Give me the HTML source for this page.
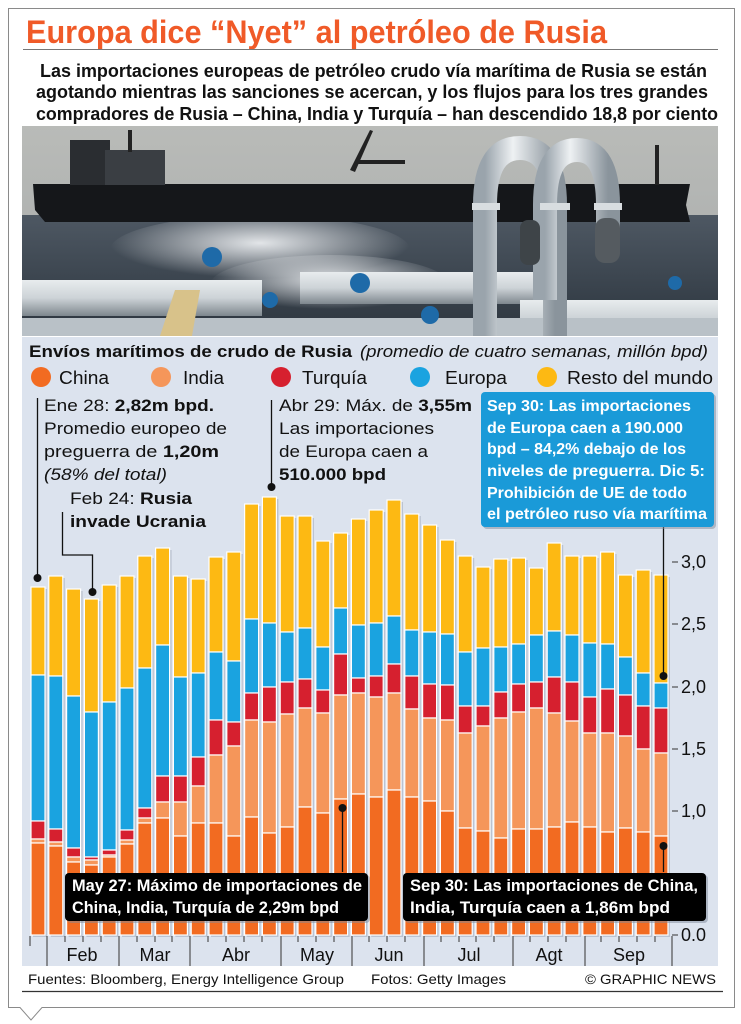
<!DOCTYPE html>
<html><head><meta charset="utf-8"><style>
html,body{margin:0;padding:0;background:#fff}
svg{display:block}
text{font-family:"Liberation Sans",sans-serif}
</style></head><body>
<svg width="741" height="1024" viewBox="0 0 741 1024" xmlns="http://www.w3.org/2000/svg">
<defs>
<linearGradient id="sky" x1="0" y1="0" x2="0" y2="1"><stop offset="0" stop-color="#b9bbb8"/><stop offset="1" stop-color="#a7aaaa"/></linearGradient>
<linearGradient id="sea" x1="0" y1="0" x2="0" y2="1"><stop offset="0" stop-color="#4e5863"/><stop offset="1" stop-color="#2c353e"/></linearGradient>
<radialGradient id="glint" cx="0.5" cy="0.4" r="0.5"><stop offset="0" stop-color="#f4f6f8" stop-opacity="0.9"/><stop offset="1" stop-color="#f4f6f8" stop-opacity="0"/></radialGradient>
<linearGradient id="pipe" x1="0" y1="0" x2="1" y2="0"><stop offset="0" stop-color="#9aa4ac"/><stop offset="0.4" stop-color="#eef1f3"/><stop offset="1" stop-color="#8a949c"/></linearGradient>
<linearGradient id="pipeh" x1="0" y1="0" x2="0" y2="1"><stop offset="0" stop-color="#e8ecee"/><stop offset="0.5" stop-color="#cdd3d7"/><stop offset="1" stop-color="#7e878e"/></linearGradient>
</defs>
<path d="M8.5 8.5 H734.5 V1007.5 H42 L31 1020 L20 1007.5 H8.5 Z" fill="#fff" stroke="#8a8a8a" stroke-width="1"/>
<text x="26" y="43" font-size="32" font-weight="bold" fill="#f05a28" textLength="581" lengthAdjust="spacingAndGlyphs">Europa dice “Nyet” al petróleo de Rusia</text>
<line x1="23" y1="49.5" x2="718" y2="49.5" stroke="#777" stroke-width="1"/>
<text x="40" y="77" font-size="18.5" font-weight="bold" fill="#111" textLength="667" lengthAdjust="spacingAndGlyphs">Las importaciones europeas de petróleo crudo vía marítima de Rusia se están</text>
<text x="36" y="98" font-size="18.5" font-weight="bold" fill="#111" textLength="672" lengthAdjust="spacingAndGlyphs">agotando mientras las sanciones se acercan, y los flujos para los tres grandes</text>
<text x="36" y="120" font-size="18.5" font-weight="bold" fill="#111" textLength="682" lengthAdjust="spacingAndGlyphs">compradores de Rusia – China, India y Turquía – han descendido 18,8 por ciento</text>
<g>
<rect x="22" y="126" width="696" height="210" fill="url(#sky)"/>
<rect x="22" y="215" width="696" height="121" fill="url(#sea)"/>
<ellipse cx="260" cy="250" rx="150" ry="35" fill="url(#glint)"/>
<ellipse cx="330" cy="285" rx="120" ry="30" fill="url(#glint)"/>
<path d="M33 184 H690 L686 205 L690 222 H45 L35 210 Z" fill="#15171a"/>
<rect x="70" y="140" width="40" height="45" fill="#2a2d31"/>
<rect x="105" y="150" width="60" height="35" fill="#3a3e43"/>
<rect x="128" y="130" width="4" height="22" fill="#222"/>
<path d="M350 170 L370 130 L373 131 L355 172 Z" fill="#222"/>
<rect x="355" y="160" width="50" height="4" fill="#222"/>
<rect x="655" y="145" width="4" height="40" fill="#222"/>
<rect x="22" y="280" width="240" height="36" fill="url(#pipeh)"/>
<rect x="300" y="272" width="240" height="32" fill="url(#pipeh)"/>
<rect x="520" y="300" width="198" height="36" fill="url(#pipeh)"/>
<rect x="22" y="318" width="696" height="18" fill="#b9c1c7"/>
<path d="M485 336 V205 Q485 148 520 148 Q555 148 555 205 V336" fill="none" stroke="url(#pipe)" stroke-width="24"/>
<path d="M545 300 V205 Q545 150 577 150 Q608 150 608 205 V245" fill="none" stroke="url(#pipe)" stroke-width="24"/>
<rect x="472" y="203" width="28" height="7" fill="#d8dde0"/><rect x="540" y="203" width="30" height="7" fill="#d8dde0"/><rect x="594" y="203" width="28" height="7" fill="#d8dde0"/>
<path d="M160 336 L175 290 L200 290 L192 336 Z" fill="#d8c28a"/>
<circle cx="212" cy="257" r="10" fill="#1e6aa8"/>
<circle cx="360" cy="283" r="10" fill="#1e6aa8"/>
<circle cx="270" cy="300" r="8" fill="#1e6aa8"/>
<circle cx="430" cy="315" r="9" fill="#1e6aa8"/>
<circle cx="675" cy="283" r="7" fill="#1e6aa8"/>
<rect x="595" y="218" width="25" height="45" rx="10" fill="#555b60"/>
<rect x="520" y="220" width="20" height="45" rx="8" fill="#3e4448"/>
</g>
<rect x="22" y="337" width="696" height="629" fill="#dce3ee"/>
<text x="29" y="357" font-size="17" font-weight="bold" fill="#111" textLength="323" lengthAdjust="spacingAndGlyphs">Envíos marítimos de crudo de Rusia</text>
<text x="360" y="357" font-size="17" font-style="italic" fill="#111" textLength="348" lengthAdjust="spacingAndGlyphs">(promedio de cuatro semanas, millón bpd)</text>
<g font-size="18" fill="#111">
<circle cx="41" cy="377" r="10" fill="#f26b21"/><text x="59" y="384" textLength="50" lengthAdjust="spacingAndGlyphs">China</text>
<circle cx="161" cy="377" r="10" fill="#f5965a"/><text x="183" y="384" textLength="41" lengthAdjust="spacingAndGlyphs">India</text>
<circle cx="281" cy="377" r="10" fill="#d6202f"/><text x="302" y="384" textLength="65" lengthAdjust="spacingAndGlyphs">Turquía</text>
<circle cx="420" cy="377" r="10" fill="#1aa3e0"/><text x="445" y="384" textLength="62" lengthAdjust="spacingAndGlyphs">Europa</text>
<circle cx="547" cy="377" r="10" fill="#fdb913"/><text x="567" y="384" textLength="146" lengthAdjust="spacingAndGlyphs">Resto del mundo</text>
</g>
<g font-size="18" fill="#111">
<line x1="672" y1="562" x2="678" y2="562" stroke="#333"/><text x="681" y="568">3,0</text>
<line x1="672" y1="624" x2="678" y2="624" stroke="#333"/><text x="681" y="630">2,5</text>
<line x1="672" y1="687" x2="678" y2="687" stroke="#333"/><text x="681" y="693">2,0</text>
<line x1="672" y1="749" x2="678" y2="749" stroke="#333"/><text x="681" y="755">1,5</text>
<line x1="672" y1="811" x2="678" y2="811" stroke="#333"/><text x="681" y="817">1,0</text>
<line x1="672" y1="935" x2="678" y2="935" stroke="#333"/><text x="681" y="941">0.0</text>
</g>
<g stroke="#fff" stroke-width="1.2">
<g transform="translate(31)"><rect x="2" y="589" width="14" height="348" fill="#9aa3b3" stroke="none" opacity=".5"/><rect y="587" width="14" height="88" fill="#fdb913"/><rect y="675" width="14" height="146" fill="#1aa3e0"/><rect y="821" width="14" height="18" fill="#d6202f"/><rect y="839" width="14" height="4" fill="#f5965a"/><rect y="843" width="14" height="92" fill="#f26b21"/></g>
<g transform="translate(48.8)"><rect x="2" y="578" width="14" height="359" fill="#9aa3b3" stroke="none" opacity=".5"/><rect y="576" width="14" height="100" fill="#fdb913"/><rect y="676" width="14" height="153" fill="#1aa3e0"/><rect y="829" width="14" height="13" fill="#d6202f"/><rect y="842" width="14" height="4" fill="#f5965a"/><rect y="846" width="14" height="89" fill="#f26b21"/></g>
<g transform="translate(66.6)"><rect x="2" y="591" width="14" height="346" fill="#9aa3b3" stroke="none" opacity=".5"/><rect y="589" width="14" height="107" fill="#fdb913"/><rect y="696" width="14" height="152" fill="#1aa3e0"/><rect y="848" width="14" height="9" fill="#d6202f"/><rect y="857" width="14" height="5" fill="#f5965a"/><rect y="862" width="14" height="73" fill="#f26b21"/></g>
<g transform="translate(84.4)"><rect x="2" y="601" width="14" height="336" fill="#9aa3b3" stroke="none" opacity=".5"/><rect y="599" width="14" height="113" fill="#fdb913"/><rect y="712" width="14" height="145" fill="#1aa3e0"/><rect y="857" width="14" height="3" fill="#d6202f"/><rect y="860" width="14" height="5" fill="#f5965a"/><rect y="865" width="14" height="70" fill="#f26b21"/></g>
<g transform="translate(102.2)"><rect x="2" y="587" width="14" height="350" fill="#9aa3b3" stroke="none" opacity=".5"/><rect y="585" width="14" height="117" fill="#fdb913"/><rect y="702" width="14" height="148" fill="#1aa3e0"/><rect y="850" width="14" height="5" fill="#d6202f"/><rect y="855" width="14" height="2" fill="#f5965a"/><rect y="857" width="14" height="78" fill="#f26b21"/></g>
<g transform="translate(120)"><rect x="2" y="578" width="14" height="359" fill="#9aa3b3" stroke="none" opacity=".5"/><rect y="576" width="14" height="112" fill="#fdb913"/><rect y="688" width="14" height="142" fill="#1aa3e0"/><rect y="830" width="14" height="10" fill="#d6202f"/><rect y="840" width="14" height="4" fill="#f5965a"/><rect y="844" width="14" height="91" fill="#f26b21"/></g>
<g transform="translate(137.8)"><rect x="2" y="558" width="14" height="379" fill="#9aa3b3" stroke="none" opacity=".5"/><rect y="556" width="14" height="112" fill="#fdb913"/><rect y="668" width="14" height="140" fill="#1aa3e0"/><rect y="808" width="14" height="10" fill="#d6202f"/><rect y="818" width="14" height="5" fill="#f5965a"/><rect y="823" width="14" height="112" fill="#f26b21"/></g>
<g transform="translate(155.6)"><rect x="2" y="550" width="14" height="387" fill="#9aa3b3" stroke="none" opacity=".5"/><rect y="548" width="14" height="97" fill="#fdb913"/><rect y="645" width="14" height="131" fill="#1aa3e0"/><rect y="776" width="14" height="26" fill="#d6202f"/><rect y="802" width="14" height="16" fill="#f5965a"/><rect y="818" width="14" height="117" fill="#f26b21"/></g>
<g transform="translate(173.4)"><rect x="2" y="578" width="14" height="359" fill="#9aa3b3" stroke="none" opacity=".5"/><rect y="576" width="14" height="101" fill="#fdb913"/><rect y="677" width="14" height="99" fill="#1aa3e0"/><rect y="776" width="14" height="26" fill="#d6202f"/><rect y="802" width="14" height="34" fill="#f5965a"/><rect y="836" width="14" height="99" fill="#f26b21"/></g>
<g transform="translate(191.2)"><rect x="2" y="581" width="14" height="356" fill="#9aa3b3" stroke="none" opacity=".5"/><rect y="579" width="14" height="94" fill="#fdb913"/><rect y="673" width="14" height="84" fill="#1aa3e0"/><rect y="757" width="14" height="29" fill="#d6202f"/><rect y="786" width="14" height="37" fill="#f5965a"/><rect y="823" width="14" height="112" fill="#f26b21"/></g>
<g transform="translate(209)"><rect x="2" y="559" width="14" height="378" fill="#9aa3b3" stroke="none" opacity=".5"/><rect y="557" width="14" height="95" fill="#fdb913"/><rect y="652" width="14" height="68" fill="#1aa3e0"/><rect y="720" width="14" height="35" fill="#d6202f"/><rect y="755" width="14" height="68" fill="#f5965a"/><rect y="823" width="14" height="112" fill="#f26b21"/></g>
<g transform="translate(226.8)"><rect x="2" y="554" width="14" height="383" fill="#9aa3b3" stroke="none" opacity=".5"/><rect y="552" width="14" height="109" fill="#fdb913"/><rect y="661" width="14" height="61" fill="#1aa3e0"/><rect y="722" width="14" height="24" fill="#d6202f"/><rect y="746" width="14" height="90" fill="#f5965a"/><rect y="836" width="14" height="99" fill="#f26b21"/></g>
<g transform="translate(244.6)"><rect x="2" y="506" width="14" height="431" fill="#9aa3b3" stroke="none" opacity=".5"/><rect y="504" width="14" height="115" fill="#fdb913"/><rect y="619" width="14" height="74" fill="#1aa3e0"/><rect y="693" width="14" height="27" fill="#d6202f"/><rect y="720" width="14" height="97" fill="#f5965a"/><rect y="817" width="14" height="118" fill="#f26b21"/></g>
<g transform="translate(262.4)"><rect x="2" y="499" width="14" height="438" fill="#9aa3b3" stroke="none" opacity=".5"/><rect y="497" width="14" height="126" fill="#fdb913"/><rect y="623" width="14" height="64" fill="#1aa3e0"/><rect y="687" width="14" height="35" fill="#d6202f"/><rect y="722" width="14" height="111" fill="#f5965a"/><rect y="833" width="14" height="102" fill="#f26b21"/></g>
<g transform="translate(280.2)"><rect x="2" y="518" width="14" height="419" fill="#9aa3b3" stroke="none" opacity=".5"/><rect y="516" width="14" height="116" fill="#fdb913"/><rect y="632" width="14" height="50" fill="#1aa3e0"/><rect y="682" width="14" height="32" fill="#d6202f"/><rect y="714" width="14" height="113" fill="#f5965a"/><rect y="827" width="14" height="108" fill="#f26b21"/></g>
<g transform="translate(298)"><rect x="2" y="518" width="14" height="419" fill="#9aa3b3" stroke="none" opacity=".5"/><rect y="516" width="14" height="112" fill="#fdb913"/><rect y="628" width="14" height="51" fill="#1aa3e0"/><rect y="679" width="14" height="29" fill="#d6202f"/><rect y="708" width="14" height="99" fill="#f5965a"/><rect y="807" width="14" height="128" fill="#f26b21"/></g>
<g transform="translate(315.8)"><rect x="2" y="543" width="14" height="394" fill="#9aa3b3" stroke="none" opacity=".5"/><rect y="541" width="14" height="106" fill="#fdb913"/><rect y="647" width="14" height="43" fill="#1aa3e0"/><rect y="690" width="14" height="23" fill="#d6202f"/><rect y="713" width="14" height="100" fill="#f5965a"/><rect y="813" width="14" height="122" fill="#f26b21"/></g>
<g transform="translate(333.6)"><rect x="2" y="535" width="14" height="402" fill="#9aa3b3" stroke="none" opacity=".5"/><rect y="533" width="14" height="75" fill="#fdb913"/><rect y="608" width="14" height="46" fill="#1aa3e0"/><rect y="654" width="14" height="41" fill="#d6202f"/><rect y="695" width="14" height="104" fill="#f5965a"/><rect y="799" width="14" height="136" fill="#f26b21"/></g>
<g transform="translate(351.4)"><rect x="2" y="521" width="14" height="416" fill="#9aa3b3" stroke="none" opacity=".5"/><rect y="519" width="14" height="106" fill="#fdb913"/><rect y="625" width="14" height="53" fill="#1aa3e0"/><rect y="678" width="14" height="15" fill="#d6202f"/><rect y="693" width="14" height="101" fill="#f5965a"/><rect y="794" width="14" height="141" fill="#f26b21"/></g>
<g transform="translate(369.2)"><rect x="2" y="512" width="14" height="425" fill="#9aa3b3" stroke="none" opacity=".5"/><rect y="510" width="14" height="113" fill="#fdb913"/><rect y="623" width="14" height="53" fill="#1aa3e0"/><rect y="676" width="14" height="21" fill="#d6202f"/><rect y="697" width="14" height="100" fill="#f5965a"/><rect y="797" width="14" height="138" fill="#f26b21"/></g>
<g transform="translate(387)"><rect x="2" y="502" width="14" height="435" fill="#9aa3b3" stroke="none" opacity=".5"/><rect y="500" width="14" height="116" fill="#fdb913"/><rect y="616" width="14" height="48" fill="#1aa3e0"/><rect y="664" width="14" height="29" fill="#d6202f"/><rect y="693" width="14" height="97" fill="#f5965a"/><rect y="790" width="14" height="145" fill="#f26b21"/></g>
<g transform="translate(404.8)"><rect x="2" y="516" width="14" height="421" fill="#9aa3b3" stroke="none" opacity=".5"/><rect y="514" width="14" height="116" fill="#fdb913"/><rect y="630" width="14" height="46" fill="#1aa3e0"/><rect y="676" width="14" height="33" fill="#d6202f"/><rect y="709" width="14" height="88" fill="#f5965a"/><rect y="797" width="14" height="138" fill="#f26b21"/></g>
<g transform="translate(422.6)"><rect x="2" y="527" width="14" height="410" fill="#9aa3b3" stroke="none" opacity=".5"/><rect y="525" width="14" height="107" fill="#fdb913"/><rect y="632" width="14" height="52" fill="#1aa3e0"/><rect y="684" width="14" height="34" fill="#d6202f"/><rect y="718" width="14" height="83" fill="#f5965a"/><rect y="801" width="14" height="134" fill="#f26b21"/></g>
<g transform="translate(440.4)"><rect x="2" y="542" width="14" height="395" fill="#9aa3b3" stroke="none" opacity=".5"/><rect y="540" width="14" height="94" fill="#fdb913"/><rect y="634" width="14" height="51" fill="#1aa3e0"/><rect y="685" width="14" height="35" fill="#d6202f"/><rect y="720" width="14" height="91" fill="#f5965a"/><rect y="811" width="14" height="124" fill="#f26b21"/></g>
<g transform="translate(458.2)"><rect x="2" y="558" width="14" height="379" fill="#9aa3b3" stroke="none" opacity=".5"/><rect y="556" width="14" height="96" fill="#fdb913"/><rect y="652" width="14" height="54" fill="#1aa3e0"/><rect y="706" width="14" height="27" fill="#d6202f"/><rect y="733" width="14" height="95" fill="#f5965a"/><rect y="828" width="14" height="107" fill="#f26b21"/></g>
<g transform="translate(476)"><rect x="2" y="569" width="14" height="368" fill="#9aa3b3" stroke="none" opacity=".5"/><rect y="567" width="14" height="81" fill="#fdb913"/><rect y="648" width="14" height="58" fill="#1aa3e0"/><rect y="706" width="14" height="20" fill="#d6202f"/><rect y="726" width="14" height="105" fill="#f5965a"/><rect y="831" width="14" height="104" fill="#f26b21"/></g>
<g transform="translate(493.8)"><rect x="2" y="561" width="14" height="376" fill="#9aa3b3" stroke="none" opacity=".5"/><rect y="559" width="14" height="88" fill="#fdb913"/><rect y="647" width="14" height="45" fill="#1aa3e0"/><rect y="692" width="14" height="26" fill="#d6202f"/><rect y="718" width="14" height="120" fill="#f5965a"/><rect y="838" width="14" height="97" fill="#f26b21"/></g>
<g transform="translate(511.6)"><rect x="2" y="560" width="14" height="377" fill="#9aa3b3" stroke="none" opacity=".5"/><rect y="558" width="14" height="86" fill="#fdb913"/><rect y="644" width="14" height="40" fill="#1aa3e0"/><rect y="684" width="14" height="28" fill="#d6202f"/><rect y="712" width="14" height="117" fill="#f5965a"/><rect y="829" width="14" height="106" fill="#f26b21"/></g>
<g transform="translate(529.4)"><rect x="2" y="570" width="14" height="367" fill="#9aa3b3" stroke="none" opacity=".5"/><rect y="568" width="14" height="67" fill="#fdb913"/><rect y="635" width="14" height="47" fill="#1aa3e0"/><rect y="682" width="14" height="26" fill="#d6202f"/><rect y="708" width="14" height="121" fill="#f5965a"/><rect y="829" width="14" height="106" fill="#f26b21"/></g>
<g transform="translate(547.2)"><rect x="2" y="545" width="14" height="392" fill="#9aa3b3" stroke="none" opacity=".5"/><rect y="543" width="14" height="88" fill="#fdb913"/><rect y="631" width="14" height="46" fill="#1aa3e0"/><rect y="677" width="14" height="36" fill="#d6202f"/><rect y="713" width="14" height="114" fill="#f5965a"/><rect y="827" width="14" height="108" fill="#f26b21"/></g>
<g transform="translate(565)"><rect x="2" y="558" width="14" height="379" fill="#9aa3b3" stroke="none" opacity=".5"/><rect y="556" width="14" height="79" fill="#fdb913"/><rect y="635" width="14" height="47" fill="#1aa3e0"/><rect y="682" width="14" height="39" fill="#d6202f"/><rect y="721" width="14" height="101" fill="#f5965a"/><rect y="822" width="14" height="113" fill="#f26b21"/></g>
<g transform="translate(582.8)"><rect x="2" y="558" width="14" height="379" fill="#9aa3b3" stroke="none" opacity=".5"/><rect y="556" width="14" height="87" fill="#fdb913"/><rect y="643" width="14" height="54" fill="#1aa3e0"/><rect y="697" width="14" height="36" fill="#d6202f"/><rect y="733" width="14" height="94" fill="#f5965a"/><rect y="827" width="14" height="108" fill="#f26b21"/></g>
<g transform="translate(600.6)"><rect x="2" y="554" width="14" height="383" fill="#9aa3b3" stroke="none" opacity=".5"/><rect y="552" width="14" height="92" fill="#fdb913"/><rect y="644" width="14" height="45" fill="#1aa3e0"/><rect y="689" width="14" height="44" fill="#d6202f"/><rect y="733" width="14" height="99" fill="#f5965a"/><rect y="832" width="14" height="103" fill="#f26b21"/></g>
<g transform="translate(618.4)"><rect x="2" y="577" width="14" height="360" fill="#9aa3b3" stroke="none" opacity=".5"/><rect y="575" width="14" height="82" fill="#fdb913"/><rect y="657" width="14" height="38" fill="#1aa3e0"/><rect y="695" width="14" height="41" fill="#d6202f"/><rect y="736" width="14" height="92" fill="#f5965a"/><rect y="828" width="14" height="107" fill="#f26b21"/></g>
<g transform="translate(636.2)"><rect x="2" y="572" width="14" height="365" fill="#9aa3b3" stroke="none" opacity=".5"/><rect y="570" width="14" height="103" fill="#fdb913"/><rect y="673" width="14" height="33" fill="#1aa3e0"/><rect y="706" width="14" height="43" fill="#d6202f"/><rect y="749" width="14" height="83" fill="#f5965a"/><rect y="832" width="14" height="103" fill="#f26b21"/></g>
<g transform="translate(654)"><rect x="2" y="577" width="14" height="360" fill="#9aa3b3" stroke="none" opacity=".5"/><rect y="575" width="14" height="108" fill="#fdb913"/><rect y="683" width="14" height="25" fill="#1aa3e0"/><rect y="708" width="14" height="45" fill="#d6202f"/><rect y="753" width="14" height="83" fill="#f5965a"/><rect y="836" width="14" height="99" fill="#f26b21"/></g>
</g>
<g stroke="#333" stroke-width="1">
<line x1="30" y1="936" x2="30" y2="946"/>
<line x1="47" y1="936" x2="47" y2="966"/><line x1="119" y1="936" x2="119" y2="966"/><line x1="190" y1="936" x2="190" y2="966"/><line x1="281" y1="936" x2="281" y2="966"/><line x1="352" y1="936" x2="352" y2="966"/><line x1="424" y1="936" x2="424" y2="966"/><line x1="513" y1="936" x2="513" y2="966"/><line x1="585" y1="936" x2="585" y2="966"/><line x1="672" y1="936" x2="672" y2="966"/>
<line x1="65" y1="936" x2="65" y2="942"/><line x1="83" y1="936" x2="83" y2="942"/><line x1="101" y1="936" x2="101" y2="942"/><line x1="137" y1="936" x2="137" y2="942"/><line x1="155" y1="936" x2="155" y2="942"/><line x1="172" y1="936" x2="172" y2="942"/><line x1="208" y1="936" x2="208" y2="942"/><line x1="226" y1="936" x2="226" y2="942"/><line x1="244" y1="936" x2="244" y2="942"/><line x1="262" y1="936" x2="262" y2="942"/><line x1="298" y1="936" x2="298" y2="942"/><line x1="316" y1="936" x2="316" y2="942"/><line x1="334" y1="936" x2="334" y2="942"/><line x1="369" y1="936" x2="369" y2="942"/><line x1="387" y1="936" x2="387" y2="942"/><line x1="405" y1="936" x2="405" y2="942"/><line x1="441" y1="936" x2="441" y2="942"/><line x1="459" y1="936" x2="459" y2="942"/><line x1="476" y1="936" x2="476" y2="942"/><line x1="494" y1="936" x2="494" y2="942"/><line x1="530" y1="936" x2="530" y2="942"/><line x1="548" y1="936" x2="548" y2="942"/><line x1="566" y1="936" x2="566" y2="942"/><line x1="601" y1="936" x2="601" y2="942"/><line x1="619" y1="936" x2="619" y2="942"/><line x1="637" y1="936" x2="637" y2="942"/><line x1="655" y1="936" x2="655" y2="942"/>
</g>
<g font-size="18" fill="#111" text-anchor="middle">
<text x="82" y="961">Feb</text><text x="155" y="961">Mar</text><text x="236" y="961">Abr</text><text x="317" y="961">May</text><text x="389" y="961">Jun</text><text x="469" y="961">Jul</text><text x="549" y="961">Agt</text><text x="629" y="961">Sep</text>
</g>
<g stroke="#111" stroke-width="1.3" fill="none">
<line x1="37.5" y1="398" x2="37.5" y2="578"/>
<polyline points="62.5,512 62.5,555 92.5,555 92.5,592"/>
<line x1="271.5" y1="400" x2="271.5" y2="487"/>
<line x1="342.5" y1="808" x2="342.5" y2="872"/>
<line x1="663.5" y1="846" x2="663.5" y2="872"/>
<line x1="663.5" y1="527" x2="663.5" y2="676"/>
</g>
<g fill="#111">
<circle cx="37.5" cy="578" r="4"/><circle cx="92.5" cy="592" r="4"/><circle cx="271.5" cy="487" r="4"/><circle cx="342.5" cy="808" r="4"/><circle cx="663.5" cy="846" r="4"/><circle cx="663.5" cy="676" r="4"/>
</g>
<g font-size="17" fill="#111">
<text x="44" y="411" textLength="170" lengthAdjust="spacingAndGlyphs">Ene 28: <tspan font-weight="bold">2,82m bpd.</tspan></text>
<text x="44" y="434" textLength="183" lengthAdjust="spacingAndGlyphs">Promedio europeo de</text>
<text x="44" y="457" textLength="175" lengthAdjust="spacingAndGlyphs">preguerra de <tspan font-weight="bold">1,20m</tspan></text>
<text x="44" y="480" font-style="italic" textLength="123" lengthAdjust="spacingAndGlyphs">(58% del total)</text>
<text x="70" y="504" textLength="122" lengthAdjust="spacingAndGlyphs">Feb 24: <tspan font-weight="bold">Rusia</tspan></text>
<text x="70" y="527" font-weight="bold" textLength="136" lengthAdjust="spacingAndGlyphs">invade Ucrania</text>
<text x="279" y="411" textLength="193" lengthAdjust="spacingAndGlyphs">Abr 29: Máx. de <tspan font-weight="bold">3,55m</tspan></text>
<text x="279" y="434" textLength="155" lengthAdjust="spacingAndGlyphs">Las importaciones</text>
<text x="279" y="457" textLength="149" lengthAdjust="spacingAndGlyphs">de Europa caen a</text>
<text x="279" y="480" font-weight="bold" textLength="107" lengthAdjust="spacingAndGlyphs">510.000 bpd</text>
</g>
<rect x="483" y="394" width="233" height="135" rx="4" fill="#7d8a99" opacity=".5"/>
<rect x="481" y="392" width="233" height="135" rx="4" fill="#1a9ad8"/>
<g font-size="16" font-weight="bold" fill="#fff">
<text x="487" y="411" textLength="204" lengthAdjust="spacingAndGlyphs">Sep 30: Las importaciones</text>
<text x="487" y="433" textLength="196" lengthAdjust="spacingAndGlyphs">de Europa caen a 190.000</text>
<text x="487" y="454" textLength="199" lengthAdjust="spacingAndGlyphs">bpd – 84,2% debajo de los</text>
<text x="487" y="476" textLength="218" lengthAdjust="spacingAndGlyphs">niveles de preguerra. Dic 5:</text>
<text x="487" y="498" textLength="200" lengthAdjust="spacingAndGlyphs">Prohibición de UE de todo</text>
<text x="487" y="519" textLength="220" lengthAdjust="spacingAndGlyphs">el petróleo ruso vía marítima</text>
</g>
<rect x="67" y="875" width="303" height="48" rx="4" fill="#7d8a99" opacity=".5"/>
<rect x="65" y="873" width="303" height="48" rx="4" fill="#000"/>
<rect x="405" y="875" width="303" height="48" rx="4" fill="#7d8a99" opacity=".5"/>
<rect x="403" y="873" width="303" height="48" rx="4" fill="#000"/>
<g font-size="17" font-weight="bold" fill="#fff">
<text x="72" y="891" textLength="290" lengthAdjust="spacingAndGlyphs">May 27: Máximo de importaciones de</text>
<text x="72" y="913" textLength="267" lengthAdjust="spacingAndGlyphs">China, India, Turquía de 2,29m bpd</text>
<text x="410" y="891" textLength="288" lengthAdjust="spacingAndGlyphs">Sep 30: Las importaciones de China,</text>
<text x="410" y="913" textLength="260" lengthAdjust="spacingAndGlyphs">India, Turquía caen a 1,86m bpd</text>
</g>
<g font-size="14" fill="#111">
<text x="28" y="984" textLength="316" lengthAdjust="spacingAndGlyphs">Fuentes: Bloomberg, Energy Intelligence Group</text>
<text x="371" y="984" textLength="135" lengthAdjust="spacingAndGlyphs">Fotos: Getty Images</text>
<text x="585" y="984" textLength="131" lengthAdjust="spacingAndGlyphs">© GRAPHIC NEWS</text>
</g>
<line x1="22" y1="991.5" x2="723" y2="991.5" stroke="#333" stroke-width="1.2"/>
</svg>
</body></html>
